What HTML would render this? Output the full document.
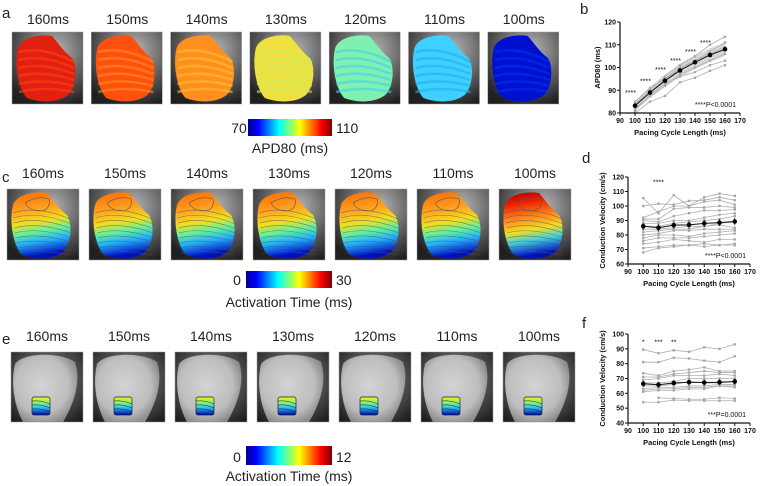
<!DOCTYPE html>
<html><head><meta charset="utf-8">
<style>
body{margin:0;background:#fff;}
#root{position:relative;width:760px;height:486px;overflow:hidden;font-family:"Liberation Sans",sans-serif;}
svg text{font-family:"Liberation Sans",sans-serif;}
</style></head>
<body>
<div id="root">
<svg id="fig" width="760" height="486" viewBox="0 0 760 486" xmlns="http://www.w3.org/2000/svg">
<defs>
<linearGradient id="jet" x1="0" x2="1" y1="0" y2="0">
<stop offset="0" stop-color="#00008f"/><stop offset="0.12" stop-color="#0000ff"/><stop offset="0.37" stop-color="#00ffff"/><stop offset="0.5" stop-color="#80ff80"/><stop offset="0.62" stop-color="#ffff00"/><stop offset="0.87" stop-color="#ff0000"/><stop offset="1" stop-color="#800000"/>
</linearGradient>
<radialGradient id="grayBg" cx="0.6" cy="0.25" r="0.8"><stop offset="0" stop-color="#b8b8b8"/><stop offset="0.5" stop-color="#6a6a6a"/><stop offset="1" stop-color="#202020"/></radialGradient>
<radialGradient id="eBg" cx="0.5" cy="0.4" r="0.75"><stop offset="0" stop-color="#909090"/><stop offset="1" stop-color="#1a1a1a"/></radialGradient>
<radialGradient id="heartE" cx="0.45" cy="0.45" r="0.6"><stop offset="0" stop-color="#d4d4d4"/><stop offset="0.7" stop-color="#bdbdbd"/><stop offset="1" stop-color="#8a8a8a"/></radialGradient>
<linearGradient id="actC" x1="0" y1="0" x2="0.15" y2="1"><stop offset="0" stop-color="#ff6a00"/><stop offset="0.3" stop-color="#ffa020"/><stop offset="0.5" stop-color="#f0e020"/><stop offset="0.65" stop-color="#60f0a0"/><stop offset="0.8" stop-color="#20b0ff"/><stop offset="1" stop-color="#0010c0"/></linearGradient>
<linearGradient id="actC2" x1="0" y1="0" x2="0.15" y2="1"><stop offset="0" stop-color="#a00000"/><stop offset="0.2" stop-color="#f02000"/><stop offset="0.45" stop-color="#ff9020"/><stop offset="0.62" stop-color="#f0e020"/><stop offset="0.78" stop-color="#40d0e0"/><stop offset="1" stop-color="#0010c0"/></linearGradient>
<linearGradient id="actE" x1="0" y1="0" x2="0" y2="1"><stop offset="0" stop-color="#f0f020"/><stop offset="0.35" stop-color="#80f080"/><stop offset="0.6" stop-color="#20c0ff"/><stop offset="1" stop-color="#0000a0"/></linearGradient>
</defs>
<g id="rows"></g>
<g id="charts"></g>
</svg>
</div>
<script>
// ---- chart data ----
const xCats = [100,110,120,130,140,150,160];
const bMean = [83.2,89.0,94.2,98.7,102.3,105.5,108.0];
const bInd1 = [84,90,96,101,105,110,113.5];
const bInd2 = [82,87.5,92,97,100,103,106];
const bInd3 = [80,85,87.5,93.5,95.5,98.5,101];
const bInd4 = [81,88,93,96,98,101,103];
const bInd5 = [85,91,95,100,103,107,111];
const bInd6 = [83,89,95,99,103,106,109];
const bStars = ["****","****","****","****","****","****"];
const dMean = [86,85,86.8,87,88,88.5,89.3];
const dInd = [
[105.5,95,107.5,100,106,108.5,107],
[100,101.5,101,103.5,104,106,104],
[92,96,100,100,103,104,101],
[91,91,98,99,99,100,99],
[90,89,93,95,97,97,97.5],
[88,88,90,90,92,94,95],
[86,86,88,89,90,91,93],
[84,84,85,86,86,88,89],
[82,83,84,84,86,87,85],
[80,81,83,83,84,84,84],
[78,80,80,79,81,82,83],
[76,78,78,78,79,80,81],
[74,75,77,76,75,77,77],
[71,72,73,73,74,73,74],
[68,71,72,73,72,73,73]];
const fMean = [66.5,65.8,67,67.5,67.3,67.5,68];
const fInd = [
[89.5,87,89,88,91,90,93],
[81,81,84,83.5,82,81,85],
[73.5,72,75,76,77.5,75,75],
[71,71,73,74,75,74,74],
[69,70,72,72,72,73,72],
[67,67,68,70,70,70,70],
[65,65,66,68,67,67,68],
[63,64,64,65,65,66,66],
[62,63,63,64,64,65,65],
[61,62,62,63,63,65,64],
[54,54,55.5,55,55,55,55],
[null,57,56.5,56,56,57,56.5]];
const xTicks = [90,100,110,120,130,140,150,160,170];

const NS="http://www.w3.org/2000/svg";
function el(tag,attrs,parent,txt){const e=document.createElementNS(NS,tag);for(const k in attrs)e.setAttribute(k,attrs[k]);if(txt!==undefined)e.textContent=txt;parent.appendChild(e);return e;}
const rows=document.getElementById('rows');
const charts=document.getElementById('charts');
const labels=["160ms","150ms","140ms","130ms","120ms","110ms","100ms"];

[["a",2,18],["c",2,182],["e",2,344]].forEach(([t,x,y])=>{const e=el('text',{x:x,y:y,'font-size':15,fill:'#222'},rows,t);

});

const heart="M6,16 C10,5 28,2 40,4 C47,12 52,20 60,26 C66,36 64,55 56,63 C46,71 28,71 15,66 C6,56 2,32 6,16 Z";
const apdCols=[["#e02010","#ff4010"],["#ff5010","#ff9020"],["#ff9020","#ffc030"],["#f0e040","#c0f060"],["#80f0b0","#40d0f0"],["#40d0ff","#20b0f0"],["#0010d0","#0030f0"]];
for(let i=0;i<7;i++){
  const x=12+i*79.3,y=32;
  const t=el('text',{x:x+36,y:24,'font-size':14,'text-anchor':'middle',fill:'#222'},rows,labels[i]);
  
  
  const g=el('g',{transform:`translate(${x},${y})`},rows);
  
  
  el('rect',{x:0,y:0,width:71,height:72,fill:'url(#grayBg)',stroke:'#999','stroke-width':0.5},g);
  el('path',{d:heart,fill:apdCols[i][0]},g);
  for(let k=0;k<6;k++)el('path',{d:`M7,${20+k*8} Q32,${14+k*8} 62,${30+k*6}`,stroke:apdCols[i][1],'stroke-width':2.5,fill:'none',opacity:0.6},g);
}
function colorbar(x,y,w,h,lo,hi,lab,ly,name){
  const g=el('g',{},rows);
  
  
  el('rect',{x:x,y:y,width:w,height:h,fill:'url(#jet)'},g);
  el('text',{x:x-9,y:y+h-3,'font-size':14,'text-anchor':'middle',fill:'#222'},g,lo);
  el('text',{x:x+w+4,y:y+h-3,'font-size':14,fill:'#222'},g,hi);
  el('text',{x:x+w/2,y:ly,'font-size':14,'text-anchor':'middle',fill:'#222'},g,lab);
}
colorbar(248,119,84,17,"70","110","APD80 (ms)",153,'apd-colorbar');
for(let i=0;i<7;i++){
  const x=7+i*82,y=189;
  const t=el('text',{x:x+36,y:178,'font-size':14,'text-anchor':'middle',fill:'#222'},rows,labels[i]);
  
  
  const g=el('g',{transform:`translate(${x},${y})`},rows);
  
  
  el('rect',{x:0,y:0,width:72,height:71,fill:'url(#grayBg)',stroke:'#999','stroke-width':0.5},g);
  el('path',{d:heart,fill:i===6?'url(#actC2)':'url(#actC)'},g);
  for(let k=0;k<9;k++)el('path',{d:`M${6+k*0.5},${24+k*5} Q30,${16+k*5.5} 63,${30+k*4.5}`,stroke:'#555','stroke-width':0.6,fill:'none',opacity:0.7},g);
  el('path',{d:"M18,14 Q30,6 42,10 Q44,20 34,22 Q22,22 18,14Z",fill:'none',stroke:'#555','stroke-width':0.6},g);
}
colorbar(246,271,86,17,"0","30","Activation Time (ms)",307,'activation-colorbar-c');
for(let i=0;i<7;i++){
  const x=11+i*82,y=352;
  const t=el('text',{x:x+36,y:341,'font-size':14,'text-anchor':'middle',fill:'#222'},rows,labels[i]);
  
  
  const g=el('g',{transform:`translate(${x},${y})`},rows);
  
  
  el('rect',{x:0,y:0,width:72,height:70,fill:'url(#eBg)',stroke:'#999','stroke-width':0.5},g);
  el('path',{d:"M4,12 C12,0 50,0 64,10 C70,28 64,50 52,70 L12,70 C2,52 0,28 4,12Z",fill:'url(#heartE)'},g);
  el('rect',{x:21,y:45,width:18,height:18,rx:2,fill:'url(#actE)',stroke:'#222','stroke-width':0.7},g);
  for(let k=0;k<3;k++)el('path',{d:`M21,${49+k*4} Q30,${48+k*4} 39,${52+k*4}`,stroke:'#222','stroke-width':0.5,fill:'none'},g);
}
colorbar(246,446,86,19,"0","12","Activation Time (ms)",481,'activation-colorbar-e');

function chart(opt){
  const g=el('g',{},charts);
  
  
  const {x0,x1,y0,y1,ymin,ymax}=opt;
  const sx=v=>x0+(v-90)/(170-90)*(x1-x0);
  const sy=v=>y1-(v-ymin)/(ymax-ymin)*(y1-y0);
  const lt=el('text',{x:opt.lx,y:opt.ly,'font-size':15,fill:'#222'},g,opt.letter);
  
  
  if(opt.band){
    let d="";
    xCats.forEach((c,i)=>{d+=(i?"L":"M")+sx(c)+","+sy(opt.mean[i]+opt.band[i]);});
    for(let i=xCats.length-1;i>=0;i--)d+="L"+sx(xCats[i])+","+sy(opt.mean[i]-opt.band[i]);
    el('path',{d:d+"Z",fill:'#d8d8d8'},g);
  }
  opt.ind.forEach(s=>{
    let d="";let started=false;
    s.forEach((v,i)=>{if(v===null)return;d+=(started?"L":"M")+sx(xCats[i])+","+sy(v);started=true;});
    const p=el('path',{d:d,fill:'none',stroke:'#b0b0b0','stroke-width':0.8},g);
    
    
    s.forEach((v,i)=>{if(v===null)return;el('rect',{x:sx(xCats[i])-1.2,y:sy(v)-1.2,width:2.4,height:2.4,fill:'#a8a8a8'},g);});
  });
  let d="";
  opt.mean.forEach((v,i)=>{d+=(i?"L":"M")+sx(xCats[i])+","+sy(v);});
  const ml=el('path',{d:d,fill:'none',stroke:'#111','stroke-width':1},g);
  
  
  opt.mean.forEach((v,i)=>{
    if(opt.err){el('line',{x1:sx(xCats[i]),x2:sx(xCats[i]),y1:sy(v-opt.err),y2:sy(v+opt.err),stroke:'#111','stroke-width':0.8},g);}
    const c=el('circle',{cx:sx(xCats[i]),cy:sy(v),r:2.3,fill:'#000'},g);
    
    
  });
  el('line',{x1:x0,x2:x0,y1:y0,y2:y1,stroke:'#111','stroke-width':1.2},g);
  el('line',{x1:x0,x2:x1,y1:y1,y2:y1,stroke:'#111','stroke-width':1.2},g);
  xTicks.forEach(t=>{el('line',{x1:sx(t),x2:sx(t),y1:y1,y2:y1+3,stroke:'#111'},g);
    el('text',{x:sx(t),y:y1+10,'font-size':7,'font-weight':'bold','text-anchor':'middle',fill:'#111'},g,t);});
  opt.yTicks.forEach(t=>{el('line',{x1:x0-3,x2:x0,y1:sy(t),y2:sy(t),stroke:'#111'},g);
    el('text',{x:x0-4,y:sy(t)+2.5,'font-size':7,'font-weight':'bold','text-anchor':'end',fill:'#111'},g,t);});
  el('text',{x:(x0+x1)/2,y:y1+22,'font-size':7.5,'font-weight':'bold','text-anchor':'middle',fill:'#111'},g,"Pacing Cycle Length (ms)");
  const yc=(y0+y1)/2;
  el('text',{x:opt.yx,y:yc,'font-size':opt.yfs||7,'font-weight':'bold','text-anchor':'middle',fill:'#111',transform:`rotate(-90 ${opt.yx} ${yc})`},g,opt.ylab);
  el('text',{x:x1-4,y:y1-6,'font-size':7,'text-anchor':'end',fill:'#111'},g,opt.pTxt);
  opt.stars.forEach(([c,v,s])=>{el('text',{x:sx(c),y:sy(v),'font-size':7,'text-anchor':'middle',fill:'#111'},g,s);});
}
chart({name:'chart-apd80',letter:'b',lx:580,ly:14,x0:620,x1:740,y0:22,y1:113,ymin:80,ymax:120,yTicks:[80,90,100,110,120],
  mean:bMean,band:[2,2.5,2.8,3,3,3,3],ind:[bInd1,bInd2,bInd3,bInd4,bInd5,bInd6],ylab:"APD80 (ms)",yx:600,yfs:7.5,pTxt:"****P<0.0001",
  stars:xCats.slice(0,6).map((c,i)=>[c-3,[88,93,98,102,106,110][i],bStars[i]])});
chart({name:'chart-conduction-velocity-d',letter:'d',lx:582,ly:163,x0:628,x1:750,y0:177,y1:264,ymin:60,ymax:120,yTicks:[60,70,80,90,100,110,120],
  mean:dMean,err:2.5,ind:dInd,ylab:"Conduction Velocity (cm/s)",yx:605,yfs:7.5,pTxt:"****P<0.0001",stars:[[110,115,"****"]]});
chart({name:'chart-conduction-velocity-f',letter:'f',lx:582,ly:328,x0:628,x1:750,y0:334,y1:423,ymin:40,ymax:100,yTicks:[40,50,60,70,80,90,100],
  mean:fMean,err:2,ind:fInd,ylab:"Conduction Velocity (cm/s)",yx:605,yfs:7.5,pTxt:"***P=0.0001",stars:[[100,93,"*"],[110,93,"***"],[120,93,"**"]]});
</script>
</body></html>
